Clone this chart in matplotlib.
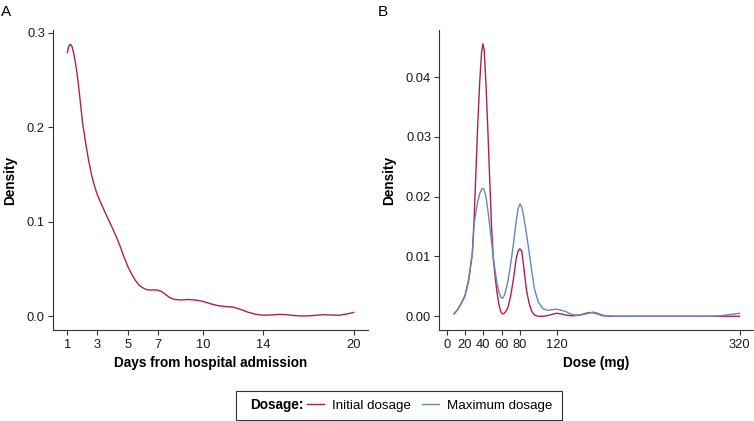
import matplotlib
matplotlib.use("Agg")
import matplotlib.pyplot as plt
from matplotlib.lines import Line2D
from matplotlib.patches import Rectangle

plt.rcParams['font.family'] = ['Liberation Sans', 'DejaVu Sans']

RED = '#a8234f'
BLUE = '#6688b5'
AXC = '#333333'

# panel A: days from admission
days = [1.0, 1.1, 1.2, 1.3, 1.4, 1.5, 1.6, 1.7, 1.8, 1.9, 2.0, 2.2, 2.4, 2.6,
        2.8, 3.0, 3.25, 3.5, 3.75, 4.0, 4.25, 4.5, 4.75, 5.0, 5.25, 5.5, 5.75,
        6.0, 6.25, 6.5, 6.75, 7.0, 7.25, 7.5, 7.75, 8.0, 8.5, 9.0, 9.5, 10.0,
        10.5, 11.0, 11.5, 12.0, 12.5, 13.0, 13.5, 14.0, 14.5, 15.0, 15.5, 16.0,
        16.5, 17.0, 17.5, 18.0, 18.5, 19.0, 19.5, 20.0]
days_density = [0.279, 0.286, 0.288, 0.286, 0.280, 0.272, 0.262, 0.250, 0.236,
                0.221, 0.206, 0.185, 0.166, 0.150, 0.138, 0.128, 0.119, 0.110,
                0.1015, 0.093, 0.084, 0.074, 0.063, 0.053, 0.045, 0.038, 0.033,
                0.030, 0.028, 0.0275, 0.0277, 0.0275, 0.026, 0.023, 0.020,
                0.018, 0.017, 0.0175, 0.017, 0.0155, 0.013, 0.011, 0.010,
                0.0095, 0.007, 0.004, 0.0018, 0.0009, 0.0011, 0.0017, 0.0015,
                0.0006, 0.0001, 0.0002, 0.0008, 0.0014, 0.0011, 0.0008, 0.002,
                0.0038]
days_ticks = [1, 3, 5, 7, 10, 14, 20]

# panel B: dose
dose = [8, 12, 16, 20, 24, 28, 30, 32, 34, 36, 38, 39.5, 41, 43, 45, 47, 49, 51,
        53, 55, 57, 59, 61, 63, 65, 67, 70, 73, 76, 78, 80, 82, 84, 87, 90, 93,
        96, 100, 105, 110, 115, 120, 125, 130, 135, 140, 145, 150, 155, 160, 165,
        170, 180, 200, 250, 290, 300, 310, 320]
initial_density = [0.0004, 0.0011, 0.0022, 0.0034, 0.0060, 0.0105, 0.0165, 0.0245,
                   0.0325, 0.0390, 0.0440, 0.0456, 0.0445, 0.0385, 0.0310, 0.0228,
                   0.0150, 0.0095, 0.0065, 0.0040, 0.0020, 0.0008, 0.0004, 0.0005,
                   0.0009, 0.0015, 0.0035, 0.0063, 0.0097, 0.0109, 0.0113, 0.0109,
                   0.0085, 0.0045, 0.0022, 0.0008, 0.0002, 0.0, 0.0, 0.0001, 0.0003,
                   0.0005, 0.0004, 0.0002, 0.0001, 0.0001, 0.0002, 0.0004, 0.0006,
                   0.0006, 0.0004, 0.0001, 0.0, 0.0, 0.0, 0.0, 0.0, 0.0, 0.0]
maximum_density = [0.0004, 0.0011, 0.0022, 0.0035, 0.0062, 0.0105, 0.0155, 0.0175,
                   0.0192, 0.0205, 0.0212, 0.0214, 0.0211, 0.0199, 0.0177, 0.0152,
                   0.0125, 0.0097, 0.0075, 0.0055, 0.0041, 0.0032, 0.0030, 0.0035,
                   0.0046, 0.0060, 0.0088, 0.0122, 0.0160, 0.0180, 0.0188, 0.0183,
                   0.0168, 0.0140, 0.0108, 0.0075, 0.0045, 0.0024, 0.0013, 0.0010,
                   0.0011, 0.0012, 0.0010, 0.0008, 0.0004, 0.0002, 0.0002, 0.0003,
                   0.0005, 0.0007, 0.0005, 0.0002, 0.0, 0.0, 0.0, 0.0, 0.0001,
                   0.0003, 0.0005]
dose_ticks = [0, 20, 40, 60, 80, 120, 320]


def style_axes(ax):
    for s in ['top', 'right']:
        ax.spines[s].set_visible(False)
    for s in ['left', 'bottom']:
        ax.spines[s].set_color(AXC)
        ax.spines[s].set_linewidth(0.8)
    ax.tick_params(direction='out', length=3.3, width=0.8, color=AXC,
                   labelsize=9.3, labelcolor='#1a1a1a')
    ax.tick_params(axis='x', pad=3)
    ax.tick_params(axis='y', pad=2.5)


fig = plt.figure(figsize=(7.54, 4.21), dpi=100)

axA = fig.add_axes([53 / 754, 91 / 421, 315 / 754, 300 / 421])
axA.plot(days, days_density, color=RED, lw=1.0)
axA.set_xlim(0.05, 20.95)
axA.set_ylim(-0.0148, 0.303)
axA.set_xticks(days_ticks)
axA.set_yticks([0.0, 0.1, 0.2, 0.3])
axA.set_yticklabels(['0.0', '0.1', '0.2', '0.3'])
axA.set_xlabel('Days from hospital admission', fontsize=9.8, fontweight='bold', labelpad=4)
axA.set_ylabel('Density', fontsize=9.8, fontweight='bold', labelpad=7)
style_axes(axA)

axB = fig.add_axes([439.3 / 754, 91 / 421, 313.4 / 754, 300 / 421])
axB.plot(dose, initial_density, color=RED, lw=1.0)
axB.plot(dose, maximum_density, color=BLUE, lw=1.0)
axB.set_xlim(-8.1, 334.4)
axB.set_ylim(-0.0023, 0.0479)
axB.set_xticks(dose_ticks)
axB.set_yticks([0.0, 0.01, 0.02, 0.03, 0.04])
axB.set_yticklabels(['0.00', '0.01', '0.02', '0.03', '0.04'])
axB.set_xlabel('Dose (mg)', fontsize=9.8, fontweight='bold', labelpad=4)
axB.set_ylabel('Density', fontsize=9.8, fontweight='bold', labelpad=7)
style_axes(axB)

fig.text(1 / 754, 1 - 12 / 421, 'A', fontsize=11, va='center', ha='left')
fig.text(378 / 754, 1 - 12 / 421, 'B', fontsize=11, va='center', ha='left')

# legend box
fig.patches.append(Rectangle((236 / 754, 1 / 421), 326 / 754, 29 / 421,
                             transform=fig.transFigure, fill=False,
                             edgecolor=AXC, lw=0.8))
fig.text(250 / 754, 1 - 405.5 / 421, 'Dosage:', fontsize=9.8, fontweight='bold',
         va='center', ha='left')
handles = [Line2D([], [], color=RED, lw=1.0), Line2D([], [], color=BLUE, lw=1.0)]
fig.legend(handles, ['Initial dosage', 'Maximum dosage'], ncol=2, frameon=False,
           loc='center left', bbox_to_anchor=(307 / 754, 1 - 405.5 / 421),
           fontsize=9.6, handlelength=1.3, handletextpad=0.6, columnspacing=0.8,
           borderpad=0, borderaxespad=0)

fig.savefig('out.png', dpi=100)
